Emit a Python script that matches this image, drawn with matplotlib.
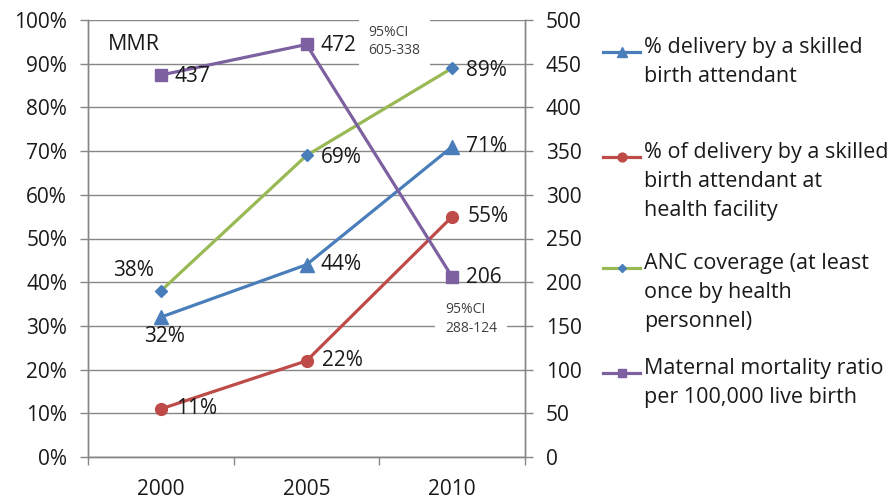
import numpy as np
import matplotlib.pyplot as plt
from matplotlib.lines import Line2D

plt.rcParams['font.family'] = ['Open Sans', 'DejaVu Sans']

years = ['2000', '2005', '2010']
sba = [32, 44, 71]            # % delivery by a skilled birth attendant
sba_facility = [11, 22, 55]   # % delivered by SBA at a health facility
anc = [38, 69, 89]            # ANC coverage, at least once
mmr = [437, 472, 206]         # maternal mortality ratio per 100,000 live births
mmr_ci = ['', '95%CI\n605-338', '95%CI\n288-124']

legend_labels = [
    '% delivery by a skilled\nbirth attendant',
    '% of delivery by a skilled\nbirth attendant at\nhealth facility',
    'ANC coverage (at least\nonce by health\npersonnel)',
    'Maternal mortality ratio\nper 100,000 live birth',
]

BLUE = '#4a7ebb'
RED = '#be4b48'
GREEN = '#98b954'
PURPLE = '#7d60a0'
GRID = '#868686'
TXT = '#1a1a1a'

x = np.arange(len(years))
px = 0.72  # points per pixel at 100 dpi

fig = plt.figure(figsize=(8.96, 5.0), dpi=100)
ax = fig.add_axes([88 / 896, 43 / 500, (525 - 88) / 896, 437 / 500])
ax2 = ax.twinx()

ax.set_xlim(-0.5, 2.5)
ax.set_ylim(0, 100)
ax2.set_ylim(0, 500)
ax.set_yticks(np.arange(0, 101, 10))
ax.set_yticklabels([f'{v}%' for v in range(0, 101, 10)])
ax2.set_yticks(np.arange(0, 501, 50))
ax.set_xticks(x)
ax.set_xticklabels(years)
ax.set_xticks([-0.5, 0.5, 1.5, 2.5], minor=True)
ax.tick_params(axis='x', which='major', length=0, pad=16, labelsize=15,
               labelcolor=TXT)
ax.tick_params(axis='x', which='minor', length=6, color=GRID, width=1)
ax.tick_params(axis='y', length=6, color=GRID, width=1, labelsize=15,
               pad=9, labelcolor=TXT)
ax2.tick_params(axis='y', length=6, color=GRID, width=1, labelsize=15,
                pad=9, labelcolor=TXT)

ax.yaxis.grid(True, color=GRID, linewidth=1)
ax.set_axisbelow(True)
for a in (ax, ax2):
    a.spines['top'].set_visible(False)
    for s in ('left', 'right', 'bottom'):
        a.spines[s].set_color(GRID)
        a.spines[s].set_linewidth(1)

series = [
    (ax, sba, dict(color=BLUE, marker='^', ms=10, mfc=BLUE, mec=BLUE)),
    (ax, sba_facility, dict(color=RED, marker='o', ms=8.5, mfc=RED, mec=RED)),
    (ax, anc, dict(color=GREEN, marker='D', ms=6, mfc=BLUE, mec=BLUE)),
    (ax2, mmr, dict(color=PURPLE, marker='s', ms=8.5, mfc=PURPLE, mec=PURPLE)),
]
for a, vals, style in series:
    a.plot(x, vals, lw=2.3, zorder=3, **style)

lab = dict(textcoords='offset points', fontsize=15, va='center', ha='left',
           color=TXT)
for i in range(3):
    ax.annotate(f'{sba_facility[i]}%', (x[i], sba_facility[i]), xytext=(15 * px, 0), **lab)
    ax2.annotate(str(mmr[i]), (x[i], mmr[i]), xytext=(14 * px, -1 * px), **lab)
for i in (1, 2):
    ax.annotate(f'{sba[i]}%', (x[i], sba[i]), xytext=(14 * px, 0), **lab)
    ax.annotate(f'{anc[i]}%', (x[i], anc[i]), xytext=(14 * px, -2 * px), **lab)
ax.annotate(f'{sba[0]}%', (x[0], sba[0]), xytext=(4 * px, -19 * px),
            textcoords='offset points', fontsize=15, va='center', ha='center',
            color=TXT)
ax.annotate(f'{anc[0]}%', (x[0], anc[0]), xytext=(-27 * px, 20 * px),
            textcoords='offset points', fontsize=15, va='center', ha='center',
            color=TXT)

ci_box = dict(facecolor='white', edgecolor='none', pad=7)
ax2.annotate(mmr_ci[1], (x[1], mmr[1]), xytext=(62 * px, 3 * px),
             textcoords='offset points', fontsize=10, va='center', ha='left',
             color='#404040', linespacing=1.35, bbox=ci_box)
ax2.annotate(mmr_ci[2], (x[2], mmr[2]), xytext=(-7 * px, -42 * px),
             textcoords='offset points', fontsize=10, va='center', ha='left',
             color='#404040', linespacing=1.35, bbox=ci_box)
fig.text(108 / 896, 1 - 45 / 500, 'MMR', fontsize=15.5,
         va='center', ha='left', color=TXT)

# hand-placed legend: each entry's first line sits beside its handle
entry_y = [52, 157, 268, 373]
for (_, _, style), label, yy in zip(series, legend_labels, entry_y):
    yf = 1 - yy / 500
    fig.add_artist(Line2D([603 / 896, 640 / 896], [yf, yf], lw=2.3,
                          color=style['color'], transform=fig.transFigure))
    fig.add_artist(Line2D([621.5 / 896], [yf], lw=0, marker=style['marker'],
                          ms=style['ms'] * 0.75, mfc=style['mfc'], mec=style['mec'],
                          transform=fig.transFigure))
    fig.text(644 / 896, yf + 15 / 500, label, fontsize=15.5, va='top',
             ha='left', linespacing=1.5, color=TXT)

fig.savefig('out.png', dpi=100)
